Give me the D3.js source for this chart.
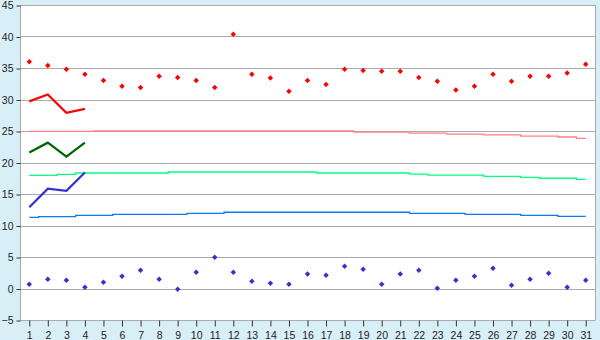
<!DOCTYPE html>
<html>
<head>
<meta charset="utf-8">
<script src="https://cdn.jsdelivr.net/npm/d3@7"></script>
<style>
  html, body { margin: 0; padding: 0; background: #d9eff7; }
  svg { display: block; }
</style>
</head>
<body>
<svg id="chart" width="600" height="340"></svg>
<script>
const days = [1,2,3,4,5,6,7,8,9,10,11,12,13,14,15,16,17,18,19,20,21,22,23,24,25,26,27,28,29,30,31];
const yTicks = [-5,0,5,10,15,20,25,30,35,40,45];

// daily scattered markers
const redPoints = [36.0,35.4,34.8,34.0,33.0,32.1,31.9,33.7,33.5,33.0,31.9,40.35,34.0,33.4,31.3,33.0,32.4,34.8,34.6,34.5,34.5,33.5,32.9,31.5,32.1,34.0,32.9,33.7,33.7,34.2,35.6];
const bluePoints = [0.67,1.46,1.3,0.19,0.98,1.94,2.89,1.46,-0.13,2.57,4.95,2.57,1.14,0.83,0.67,2.3,2.1,3.52,3.05,0.67,2.3,2.89,0.03,1.3,1.94,3.2,0.5,1.46,2.41,0.19,1.3];

// short thick lines (first 4 days)
const redLine = [29.7,30.8,27.9,28.5];
const greenLine = [21.6,23.15,20.95,23.15];
const blueLine = [12.9,15.85,15.5,18.4];

// step "normal" lines
const pinkStep = [24.95,24.95,24.95,24.95,25.0,25.0,25.0,25.0,25.0,25.0,25.0,25.0,25.0,25.0,25.0,25.0,25.0,25.0,24.82,24.82,24.82,24.66,24.66,24.5,24.5,24.37,24.37,24.2,24.2,24.05,23.84];
const greenStep = [17.97,17.97,18.13,18.33,18.33,18.33,18.33,18.33,18.49,18.49,18.49,18.49,18.49,18.49,18.49,18.49,18.33,18.33,18.33,18.33,18.33,18.17,18.0,18.0,18.0,17.8,17.8,17.65,17.5,17.5,17.33];
const blueStep = [11.3,11.4,11.4,11.62,11.62,11.78,11.78,11.78,11.78,11.94,11.94,12.1,12.1,12.1,12.1,12.1,12.1,12.1,12.1,12.1,12.1,11.94,11.94,11.94,11.78,11.78,11.78,11.62,11.62,11.46,11.46];

const svg = d3.select("#chart");
const L = 20, R = 595, T = 5, B = 320;
const FONT = '"Liberation Sans", Arial, sans-serif';

const x = d3.scaleBand().domain(days).range([L, R]).padding(0);
const cx = d => x(d) + x.bandwidth() / 2;
const y = d3.scaleLinear().domain([-5, 45]).range([B, T]);

// plot area
svg.append("rect").attr("x", L).attr("y", T).attr("width", R - L).attr("height", B - T).attr("fill", "#fff");

// gridlines
svg.append("g").selectAll("line").data(yTicks).join("line")
  .attr("x1", L).attr("x2", R)
  .attr("y1", d => Math.round(y(d)) + 0.5).attr("y2", d => Math.round(y(d)) + 0.5)
  .attr("stroke", "#aaaaaa").attr("stroke-width", 1);

// right border
svg.append("line").attr("x1", R + 0.5).attr("x2", R + 0.5).attr("y1", T).attr("y2", B)
  .attr("stroke", "#aaaaaa");

// axes
const yAxis = d3.axisLeft(y).tickValues(yTicks).tickSize(4).tickPadding(3).tickFormat(d => String(d).replace("-", "\u2212"));
const gy = svg.append("g").attr("transform", `translate(${L + 0.5},0.5)`).call(yAxis);
gy.select(".domain").attr("stroke", "#aaaaaa").attr("d", `M0,${T}V${B}`);
gy.selectAll(".tick line").attr("stroke", "#333");
gy.selectAll("text").attr("fill", "#222").style("font-family", FONT).style("font-size", "10.5px");

const xAxis = d3.axisBottom(x).tickSize(6).tickPadding(5);
const gx = svg.append("g").attr("transform", `translate(0.5,${B + 0.5})`).call(xAxis);
gx.select(".domain").attr("stroke", "#aaaaaa").attr("d", `M${L},0H${R}`);
gx.selectAll(".tick line").attr("stroke", "#333");
gx.selectAll("text").attr("fill", "#222").style("font-family", FONT).style("font-size", "10.5px");

// step lines
const stepLine = d3.line().x((d, i) => cx(days[i])).y(d => y(d)).curve(d3.curveStep);
[[pinkStep, "#ff8080"], [greenStep, "#00ff80"], [blueStep, "#0a7af5"]].forEach(([data, c]) => {
  svg.append("path").datum(data).attr("d", stepLine)
    .attr("fill", "none").attr("stroke", c).attr("stroke-width", 1.3);
});

// short thick lines
const shortLine = d3.line().x((d, i) => cx(days[i])).y(d => y(d));
[[redLine, "#ff0000"], [greenLine, "#006400"], [blueLine, "#3333cc"]].forEach(([data, c]) => {
  svg.append("path").datum(data).attr("d", shortLine)
    .attr("fill", "none").attr("stroke", c).attr("stroke-width", 2.2).attr("stroke-linejoin", "miter");
});

// markers
const diamond = d3.symbol().type(d3.symbolSquare).size(15)();
[[redPoints, "#ff0000"], [bluePoints, "#3333cc"]].forEach(([data, c]) => {
  svg.append("g").selectAll("path").data(data).join("path")
    .attr("d", diamond)
    .attr("transform", (d, i) => `translate(${cx(days[i])},${y(d)}) rotate(45)`)
    .attr("fill", c);
});
</script>
</body>
</html>
